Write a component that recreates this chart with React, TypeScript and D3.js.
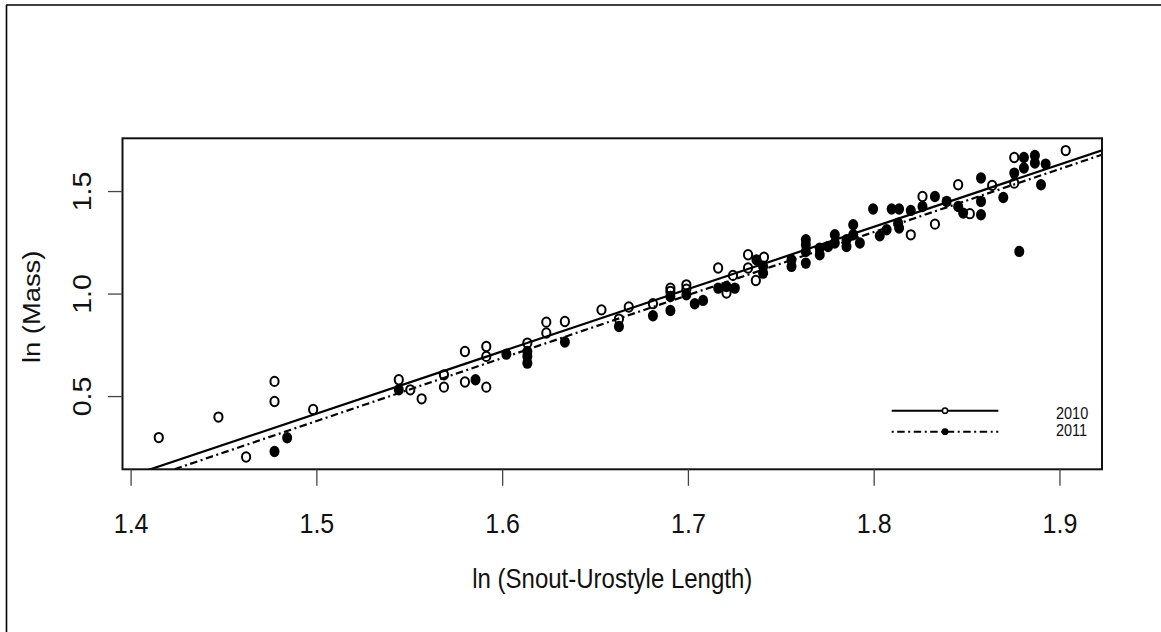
import React from 'react';
import * as d3 from 'd3';

// ---- data (ln SUL, ln Mass) ----
const x2010 = [1.4149, 1.4470, 1.4772, 1.4772, 1.4980, 1.4619, 1.5441, 1.5503, 1.5564, 1.5684, 1.5684, 1.5797, 1.5797, 1.5912, 1.5912, 1.5912, 1.6133, 1.6235, 1.6235, 1.6335, 1.6532, 1.6626, 1.6679, 1.6809, 1.6903, 1.6903, 1.6989, 1.6989, 1.7160, 1.7240, 1.7205, 1.7321, 1.7407, 1.7321, 1.7363, 1.8197, 1.8260, 1.8327, 1.8452, 1.8515, 1.8635, 1.8754, 1.8754, 1.9031];
const y2010 = [0.300, 0.400, 0.574, 0.476, 0.437, 0.205, 0.582, 0.533, 0.489, 0.606, 0.546, 0.720, 0.571, 0.546, 0.744, 0.696, 0.761, 0.863, 0.810, 0.866, 0.923, 0.878, 0.937, 0.953, 1.029, 1.013, 1.045, 1.024, 1.127, 1.091, 1.005, 1.192, 1.180, 1.127, 1.066, 1.289, 1.476, 1.341, 1.533, 1.392, 1.530, 1.666, 1.541, 1.700];
const x2011 = [1.4840, 1.4772, 1.5441, 1.5854, 1.6020, 1.6133, 1.6133, 1.6133, 1.6335, 1.6626, 1.6809, 1.6903, 1.6903, 1.6989, 1.7034, 1.7079, 1.7160, 1.7205, 1.7250, 1.7366, 1.7402, 1.7402, 1.7555, 1.7555, 1.7632, 1.7632, 1.7632, 1.7632, 1.7707, 1.7707, 1.7752, 1.7788, 1.7788, 1.7851, 1.7851, 1.7887, 1.7887, 1.7923, 1.7994, 1.8030, 1.8067, 1.8094, 1.8134, 1.8134, 1.8197, 1.8260, 1.8327, 1.8129, 1.8390, 1.8452, 1.8479, 1.8575, 1.8575, 1.8575, 1.8695, 1.8754, 1.8806, 1.8806, 1.8865, 1.8865, 1.8923, 1.8898, 1.8781];
const y2011 = [0.299, 0.232, 0.533, 0.582, 0.707, 0.720, 0.696, 0.663, 0.766, 0.842, 0.894, 0.988, 0.920, 0.997, 0.953, 0.969, 1.029, 1.037, 1.029, 1.167, 1.135, 1.102, 1.167, 1.135, 1.265, 1.240, 1.208, 1.151, 1.224, 1.192, 1.232, 1.289, 1.249, 1.265, 1.232, 1.338, 1.289, 1.249, 1.415, 1.284, 1.314, 1.415, 1.415, 1.322, 1.408, 1.427, 1.476, 1.346, 1.452, 1.427, 1.395, 1.566, 1.452, 1.387, 1.471, 1.590, 1.666, 1.615, 1.676, 1.639, 1.634, 1.533, 1.208];

// regression fits: [intercept, slope]
const fit2010 = [-4.138, 3.037];
const fit2011 = [-4.2283, 3.073];

const xTicks = [1.4, 1.5, 1.6, 1.7, 1.8, 1.9];
const yTicks = [0.5, 1.0, 1.5];
const xTitle = 'ln (Snout-Urostyle Length)';
const yTitle = 'ln (Mass)';
const legendLabels = ['2010', '2011'];

const FONT = '"Liberation Sans", Arial, Helvetica, sans-serif';
const SY = 1.14; // vertical stretch of the original image

export default function App() {
  const W = 1161, H = 632;
  const box = { l: 122.5, r: 1102, t: 138.3, b: 469.3 };

  const allX = [...x2010, ...x2011];
  const allY = [...y2010, ...y2011];
  const [xmin, xmax] = d3.extent(allX) as [number, number];
  const [ymin, ymax] = d3.extent(allY) as [number, number];
  const xp = (xmax - xmin) * 0.04;
  const yp = (ymax - ymin) * 0.04;
  const xs = d3.scaleLinear().domain([xmin - xp, xmax + xp]).range([box.l, box.r]);
  const ys = d3.scaleLinear().domain([ymin - yp, ymax + yp]).range([box.b, box.t]);

  const dom = xs.domain();
  const lineGen = d3.line<[number, number]>().x(d => xs(d[0])).y(d => ys(d[1]));
  const fitPath = (f: number[]) => lineGen([[dom[0], f[0] + f[1] * dom[0]], [dom[1], f[0] + f[1] * dom[1]]]) as string;

  const dash = '2,3.5,7.5,3.5';
  const legX0 = 891.7, legX1 = 998.3, legTextX = 1056, legY = [410.7, 431.7], legTextY = [419, 435.5];

  return (
    <svg width={W} height={H} style={{ position: 'absolute', left: 0, top: 0, background: '#fff' }} fontFamily={FONT}>
      <rect x={0} y={0} width={W} height={H} fill="#fff" />
      {/* outer frame (left & top visible) */}
      <line x1={6.5} y1={5} x2={6.5} y2={H} stroke="#000" strokeWidth={1.6} />
      <line x1={6} y1={5} x2={W} y2={5} stroke="#000" strokeWidth={1.6} />

      <defs>
        <clipPath id="plotclip">
          <rect x={box.l} y={box.t} width={box.r - box.l} height={box.b - box.t} />
        </clipPath>
      </defs>

      {/* points 2010 open */}
      <g>
        {x2010.map((x, i) => (
          <ellipse key={'a' + i} cx={xs(x)} cy={ys(y2010[i])} rx={4.1} ry={4.1 * SY} fill="none" stroke="#000" strokeWidth={2} />
        ))}
      </g>
      {/* points 2011 filled */}
      <g>
        {x2011.map((x, i) => (
          <ellipse key={'b' + i} cx={xs(x)} cy={ys(y2011[i])} rx={5} ry={5 * SY} fill="#000" stroke="none" />
        ))}
      </g>

      {/* regression lines */}
      <g clipPath="url(#plotclip)">
        <path d={fitPath(fit2010)} stroke="#000" strokeWidth={2.2} fill="none" />
        <path d={fitPath(fit2011)} stroke="#000" strokeWidth={2.2} fill="none" strokeDasharray={dash} />
      </g>

      {/* plot box */}
      <rect x={box.l} y={box.t} width={box.r - box.l} height={box.b - box.t} fill="none" stroke="#111" strokeWidth={2} />

      {/* x axis */}
      {xTicks.map(t => (
        <g key={'xt' + t}>
          <line x1={xs(t)} x2={xs(t)} y1={box.b} y2={box.b + 16.5} stroke="#444" strokeWidth={1.3} />
          <text transform={`translate(${xs(t)},533) scale(1,${SY})`} textAnchor="middle" fontSize={25} fill="#111">{t.toFixed(1)}</text>
        </g>
      ))}
      {/* y axis */}
      {yTicks.map(t => (
        <g key={'yt' + t}>
          <line x1={box.l - 14.5} x2={box.l} y1={ys(t)} y2={ys(t)} stroke="#444" strokeWidth={1.3} />
          <text transform={`translate(91,${ys(t)}) scale(1,${SY}) rotate(-90)`} textAnchor="middle" fontSize={25} fill="#111">{t.toFixed(1)}</text>
        </g>
      ))}

      {/* axis titles */}
      <text transform={`translate(${(box.l + box.r) / 2},588) scale(1,${SY})`} textAnchor="middle" fontSize={24} fill="#111">{xTitle}</text>
      <text transform={`translate(40,${(box.t + box.b) / 2 + 3}) scale(1,${SY}) rotate(-90)`} textAnchor="middle" fontSize={24} fill="#111">{yTitle}</text>

      {/* legend */}
      <line x1={legX0} x2={legX1} y1={legY[0]} y2={legY[0]} stroke="#000" strokeWidth={2} />
      <circle cx={(legX0 + legX1) / 2} cy={legY[0]} r={2.6} fill="#fff" stroke="#000" strokeWidth={1.5} />
      <line x1={legX0} x2={legX1} y1={legY[1]} y2={legY[1]} stroke="#000" strokeWidth={2} strokeDasharray={dash} />
      <circle cx={(legX0 + legX1) / 2} cy={legY[1]} r={3.4} fill="#000" />
      {legendLabels.map((l, i) => (
        <text key={l} transform={`translate(${legTextX},${legTextY[i]}) scale(1,1.12)`} fontSize={14.5} fill="#111">{l}</text>
      ))}
    </svg>
  );
}
